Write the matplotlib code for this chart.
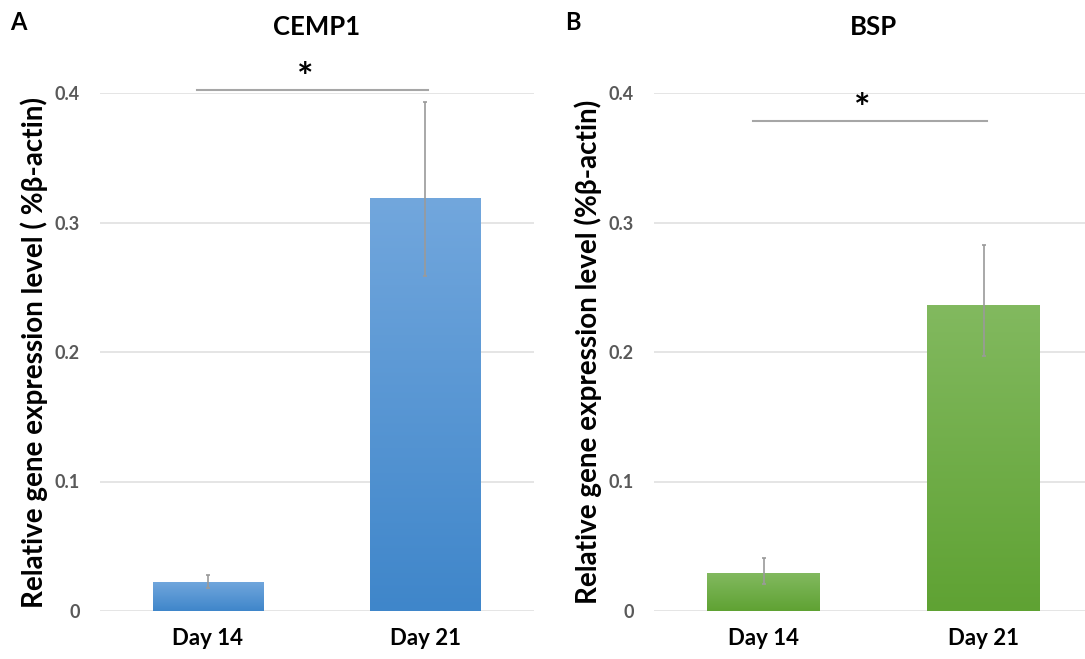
import numpy as np
import matplotlib
matplotlib.use("Agg")
import matplotlib.pyplot as plt
from matplotlib.colors import LinearSegmentedColormap

plt.rcParams['font.family'] = ['Lato', 'DejaVu Sans']

days = ["Day 14", "Day 21"]

# CEMP1 (panel A)
cemp1_mean = [0.0224, 0.319]
cemp1_low = [0.018, 0.259]
cemp1_high = [0.028, 0.393]

# BSP (panel B)
bsp_mean = [0.0293, 0.236]
bsp_low = [0.021, 0.197]
bsp_high = [0.041, 0.283]

yticks = [0, 0.1, 0.2, 0.3, 0.4]
ytick_labels = ["0", "0.1", "0.2", "0.3", "0.4"]


def draw_panel(ax, means, lows, highs, top_col, bot_col, title, ylabel, sig_y):
    x = np.arange(len(days))
    cmap = LinearSegmentedColormap.from_list("g", [bot_col, top_col])
    grad = np.linspace(0, 1, 256).reshape(-1, 1)

    # bars with a vertical gradient, like the Excel original
    for i, m in enumerate(means):
        bar = ax.bar(x[i], m, width=0.51, facecolor="none", edgecolor="none", zorder=2)[0]
        im = ax.imshow(grad, cmap=cmap, origin="lower", aspect="auto",
                       extent=[x[i] - 0.255, x[i] + 0.255, 0, m], zorder=2)
        im.set_clip_path(bar)

    err_lo = [m - l for m, l in zip(means, lows)]
    err_hi = [h - m for m, h in zip(means, highs)]
    ax.errorbar(x, means, yerr=[err_lo, err_hi], fmt="none", ecolor="#9a9a9a",
                elinewidth=1.2, capsize=1.5, capthick=1.2, zorder=3)

    ax.set_xlim(-0.5, 1.5)
    ax.set_ylim(0, 0.4)

    ax.set_yticks(yticks)
    ax.set_yticklabels(ytick_labels)
    ax.set_xticks(x)
    ax.set_xticklabels(days, fontsize=16, fontweight="bold", color="black")
    ax.tick_params(axis="both", length=0)
    ax.tick_params(axis="y", labelsize=13, labelcolor="#595959", pad=14)
    ax.tick_params(axis="x", pad=12)
    for lab in ax.get_yticklabels():
        lab.set_fontweight("bold")
    ax.grid(axis="y", color="#e0e0e0", linewidth=1.2, zorder=0)
    ax.set_axisbelow(True)
    for s in ax.spines.values():
        s.set_visible(False)

    ax.set_ylabel(ylabel, fontsize=20, fontweight="bold", labelpad=5)

    # significance bracket
    ax.plot([-0.05, 1.015], [sig_y, sig_y], color="#a6a6a6", linewidth=1.5,
            clip_on=False, zorder=4)
    ax.text(0.447, sig_y - 0.004, "*", ha="center", va="bottom", fontsize=28,
            fontweight="bold", clip_on=False)

    ax.set_title(title, fontsize=18.5, fontweight="bold", pad=42)


fig = plt.figure(figsize=(10.85, 6.59), dpi=100)

ax1 = fig.add_axes([99.5 / 1085, 48 / 659, 434 / 1085, 518 / 659])
ax2 = fig.add_axes([653.5 / 1085, 48 / 659, 440 / 1085, 518 / 659])

draw_panel(ax1, cemp1_mean, cemp1_low, cemp1_high, "#72a7dd", "#3f86ca",
           "CEMP1", "Relative gene expression level ( %\u03b2-actin)", 0.402)
draw_panel(ax2, bsp_mean, bsp_low, bsp_high, "#82b95f", "#5fa233",
           "BSP", "Relative gene expression level (%\u03b2-actin)", 0.378)

fig.text(18 / 1085, 1 - 22 / 659, "A", fontsize=17, fontweight="bold", va="center", ha="center")
fig.text(573 / 1085, 1 - 22 / 659, "B", fontsize=17, fontweight="bold", va="center", ha="center")

fig.savefig("out.png", dpi=100, facecolor="white")
